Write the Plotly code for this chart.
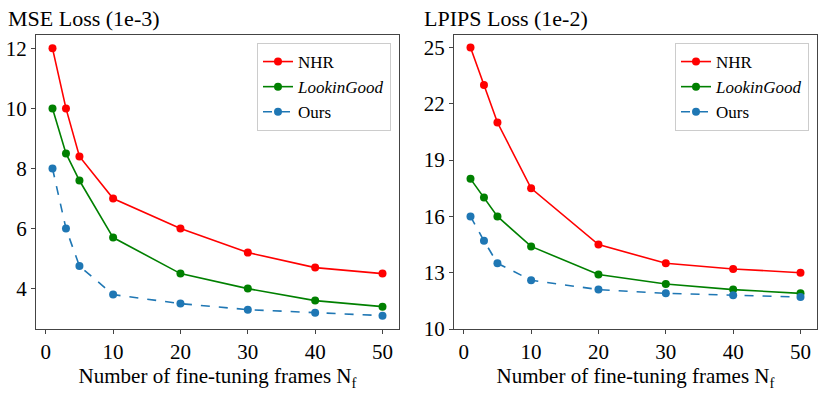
import plotly.graph_objects as go
from plotly.subplots import make_subplots

frames = [1, 3, 5, 10, 20, 30, 40, 50]

mse_nhr = [12.0, 10.0, 8.4, 7.0, 6.0, 5.2, 4.7, 4.5]
mse_lookingood = [10.0, 8.5, 7.6, 5.7, 4.5, 4.0, 3.6, 3.4]
mse_ours = [8.0, 6.0, 4.75, 3.8, 3.5, 3.3, 3.2, 3.1]

lpips_nhr = [25.0, 23.0, 21.0, 17.5, 14.5, 13.5, 13.2, 13.0]
lpips_lookingood = [18.0, 17.0, 16.0, 14.4, 12.9, 12.4, 12.1, 11.9]
lpips_ours = [16.0, 14.7, 13.5, 12.6, 12.1, 11.9, 11.8, 11.7]

mse_ticks = [4, 6, 8, 10, 12]
lpips_ticks = [10, 13, 16, 19, 22, 25]
x_ticks = [0, 10, 20, 30, 40, 50]

font = "Liberation Serif"
W, H = 830, 394


def px_x(v):
    return v / W


def px_y(v):
    return 1 - v / H


fig = make_subplots(rows=1, cols=2)

series = [
    ("NHR", "#ff0000", "solid", mse_nhr, lpips_nhr),
    ("<i>LookinGood</i>", "#008000", "solid", mse_lookingood, lpips_lookingood),
    ("Ours", "#1f77b4", "dash", mse_ours, lpips_ours),
]

for name, color, dash, y1, y2 in series:
    fig.add_trace(go.Scatter(x=frames, y=y1, name=name, mode="lines+markers",
                             line=dict(color=color, width=1.6, dash=dash),
                             marker=dict(size=8, color=color),
                             legend="legend"), row=1, col=1)
    fig.add_trace(go.Scatter(x=frames, y=y2, name=name, mode="lines+markers",
                             line=dict(color=color, width=1.6, dash=dash),
                             marker=dict(size=8, color=color),
                             legend="legend2"), row=1, col=2)

axis_style = dict(showline=True, linecolor="#444", linewidth=1, mirror=True,
                  ticks="outside", ticklen=4, tickcolor="#444", showgrid=False,
                  zeroline=False, automargin=False,
                  tickfont=dict(family=font, size=21, color="black"))

fig.update_xaxes(**axis_style, range=[-1.45, 52.45], tickvals=x_ticks)
fig.update_xaxes(domain=[px_x(36), px_x(399)], row=1, col=1)
fig.update_xaxes(domain=[px_x(454), px_x(817)], row=1, col=2)
for c in (1, 2):
    fig.update_xaxes(title=dict(text="Number of fine-tuning frames N<sub>f</sub>",
                                font=dict(family=font, size=21, color="black"),
                                standoff=5), row=1, col=c)

fig.update_yaxes(**axis_style)
fig.update_yaxes(range=[2.655, 12.445], tickvals=mse_ticks, row=1, col=1)
fig.update_yaxes(range=[10, 25.665], tickvals=lpips_ticks, row=1, col=2)
fig.update_yaxes(domain=[px_y(329), px_y(35)])

legend_style = dict(font=dict(family=font, size=17, color="black"),
                    bgcolor="white", bordercolor="#ccc", borderwidth=1,
                    xanchor="right", yanchor="top", tracegroupgap=0,
                    itemwidth=30)
fig.update_layout(
    legend=dict(**legend_style, x=px_x(391), y=px_y(43)),
    legend2=dict(**legend_style, x=px_x(809), y=px_y(43)),
)

fig.add_annotation(text="MSE Loss (1e-3)", x=px_x(6), y=px_y(18), xref="paper", yref="paper",
                   xanchor="left", yanchor="middle", showarrow=False,
                   font=dict(family=font, size=22, color="black"))
fig.add_annotation(text="LPIPS Loss (1e-2)", x=px_x(422), y=px_y(18), xref="paper", yref="paper",
                   xanchor="left", yanchor="middle", showarrow=False,
                   font=dict(family=font, size=22, color="black"))

fig.update_layout(width=W, height=H, margin=dict(l=0, r=0, t=0, b=0),
                  plot_bgcolor="white", paper_bgcolor="white",
                  font=dict(family=font, color="black"))

fig.write_html("out.html", config={"displayModeBar": False},
               post_script="document.body.style.margin='0';document.body.style.overflow='hidden';")
